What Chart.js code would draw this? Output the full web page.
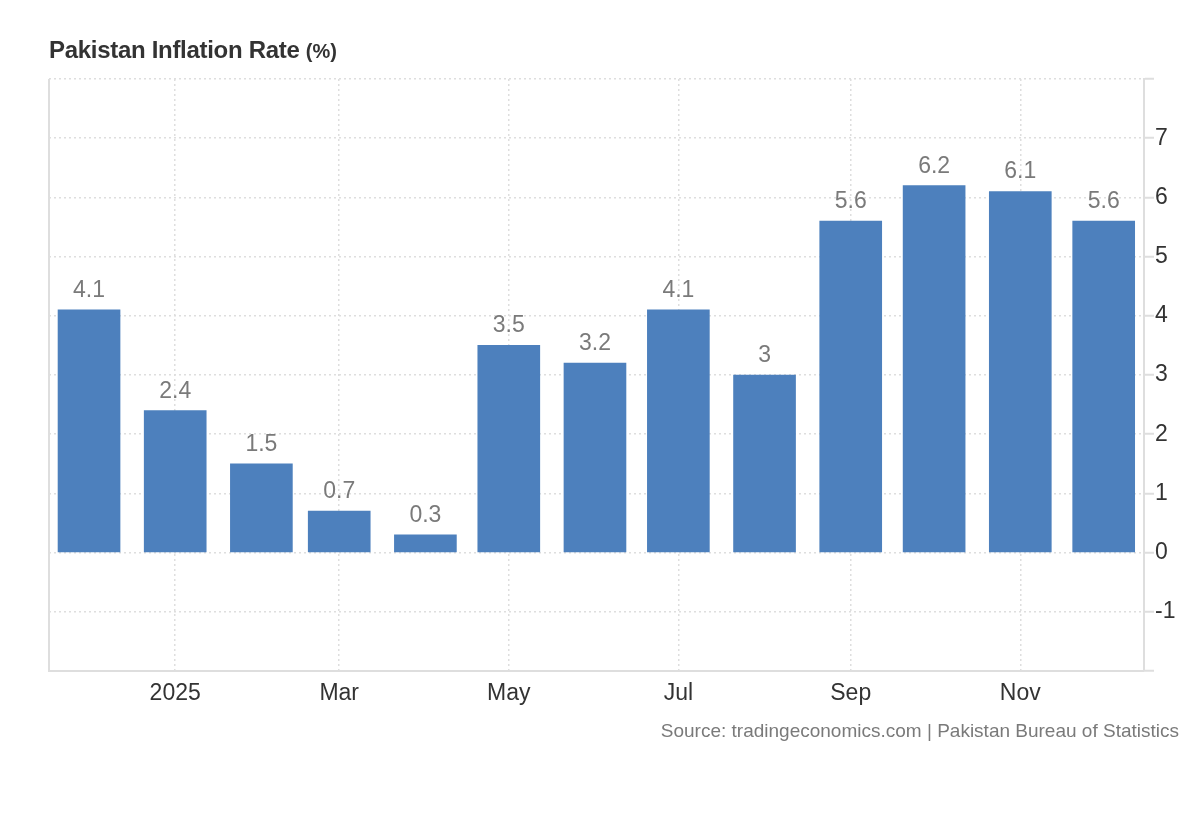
<!DOCTYPE html>
<html>
<head>
<meta charset="utf-8">
<script src="https://cdn.jsdelivr.net/npm/chart.js@4.4.1/dist/chart.umd.min.js"></script>
<style>
  html, body { margin: 0; padding: 0; background: #ffffff; }
  #wrap { position: relative; width: 1200px; height: 820px; font-family: "Liberation Sans", Arial, Helvetica, sans-serif; }
  #title { position: absolute; left: 49px; top: 36px; font-size: 24px; font-weight: bold; color: #333333; white-space: nowrap; letter-spacing: -0.3px; }
  #title small { font-size: 20px; letter-spacing: 0; }
  #source { position: absolute; right: 21px; top: 720px; font-size: 19px; color: #7a7a7a; white-space: nowrap; }
  canvas { position: absolute; left: 0; top: 0; }
</style>
</head>
<body>
<div id="wrap">
  <canvas id="c" width="1200" height="820"></canvas>
  <div id="title">Pakistan Inflation Rate <small>(%)</small></div>
  <div id="source">Source: tradingeconomics.com | Pakistan Bureau of Statistics</div>
</div>
<script>
// ---- data ----
const months = ['2024-12','2025-01','2025-02','2025-03','2025-04','2025-05','2025-06','2025-07','2025-08','2025-09','2025-10','2025-11','2025-12'];
const inflation = [4.1, 2.4, 1.5, 0.7, 0.3, 3.5, 3.2, 4.1, 3, 5.6, 6.2, 6.1, 5.6];
const tickMonths = ['2025-01','2025-03','2025-05','2025-07','2025-09','2025-11'];
const tickLabels = ['2025','Mar','May','Jul','Sep','Nov'];
const yTicks = [-1, 0, 1, 2, 3, 4, 5, 6, 7];

// day number relative to 2025-01-01
function dayOf(m) {
  const [y, mo] = m.split('-').map(Number);
  return (Date.UTC(y, mo - 1, 1) - Date.UTC(2025, 0, 1)) / 86400000;
}
const points = months.map((m, i) => ({ x: dayOf(m), y: inflation[i] }));
const tickDays = tickMonths.map(dayOf);

const FONT = '"Liberation Sans", Arial, Helvetica, sans-serif';
const GRID = '#dedede';
const BORDER = '#dedede';

const valueLabels = {
  id: 'valueLabels',
  afterDatasetsDraw(chart) {
    const ctx = chart.ctx;
    const meta = chart.getDatasetMeta(0);
    ctx.save();
    ctx.font = '23px ' + FONT;
    ctx.fillStyle = '#7a7a7a';
    ctx.textAlign = 'center';
    ctx.textBaseline = 'alphabetic';
    meta.data.forEach((bar, i) => {
      ctx.fillText(String(inflation[i]), bar.x, bar.y - 13);
    });
    ctx.restore();
  }
};

const leftBorder = {
  id: 'leftBorder',
  afterDraw(chart) {
    const a = chart.chartArea, ctx = chart.ctx;
    ctx.save();
    ctx.strokeStyle = BORDER;
    ctx.lineWidth = 2;
    ctx.beginPath();
    ctx.moveTo(a.left, a.top);
    ctx.lineTo(a.left, a.bottom);
    ctx.stroke();
    ctx.restore();
  }
};

new Chart(document.getElementById('c'), {
  type: 'bar',
  data: {
    datasets: [{
      data: points,
      backgroundColor: '#4d80bd',
      barThickness: 62,
      borderWidth: 0
    }]
  },
  options: {
    responsive: false,
    animation: false,
    layout: { padding: { left: 49, top: 79, right: 0, bottom: 0 } },
    plugins: { legend: { display: false }, tooltip: { enabled: false }, title: { display: false } },
    scales: {
      x: {
        type: 'linear',
        offset: false,
        min: -45.4,
        max: 348.5,
        afterBuildTicks(scale) { scale.ticks = tickDays.map(v => ({ value: v })); },
        afterFit(scale) { scale.height = 149; },
        ticks: {
          callback: (v) => { const i = tickDays.indexOf(v); return i >= 0 ? tickLabels[i] : ''; },
          font: { family: FONT, size: 23 },
          color: '#333333',
          padding: 9,
          maxRotation: 0,
          autoSkip: false
        },
        grid: { offset: false, color: GRID, drawTicks: false, lineWidth: 1.5 },
        border: { display: true, color: BORDER, width: 2, dash: [2, 3] }
      },
      y: {
        position: 'right',
        min: -2,
        max: 8,
        afterBuildTicks(scale) { scale.ticks = [-2].concat(yTicks, [8]).map(v => ({ value: v })); },
        afterFit(scale) { scale.width = 56; },
        ticks: {
          callback: (v) => yTicks.includes(v) ? String(v) : '',
          font: { family: FONT, size: 23 },
          color: '#333333',
          padding: 1
        },
        grid: { color: GRID, lineWidth: 1.5, tickLength: 10, tickColor: BORDER, tickBorderDash: [], tickWidth: 2 },
        border: { display: true, color: BORDER, width: 2, dash: [2, 3] }
      }
    }
  },
  plugins: [valueLabels, leftBorder]
});
</script>
</body>
</html>
